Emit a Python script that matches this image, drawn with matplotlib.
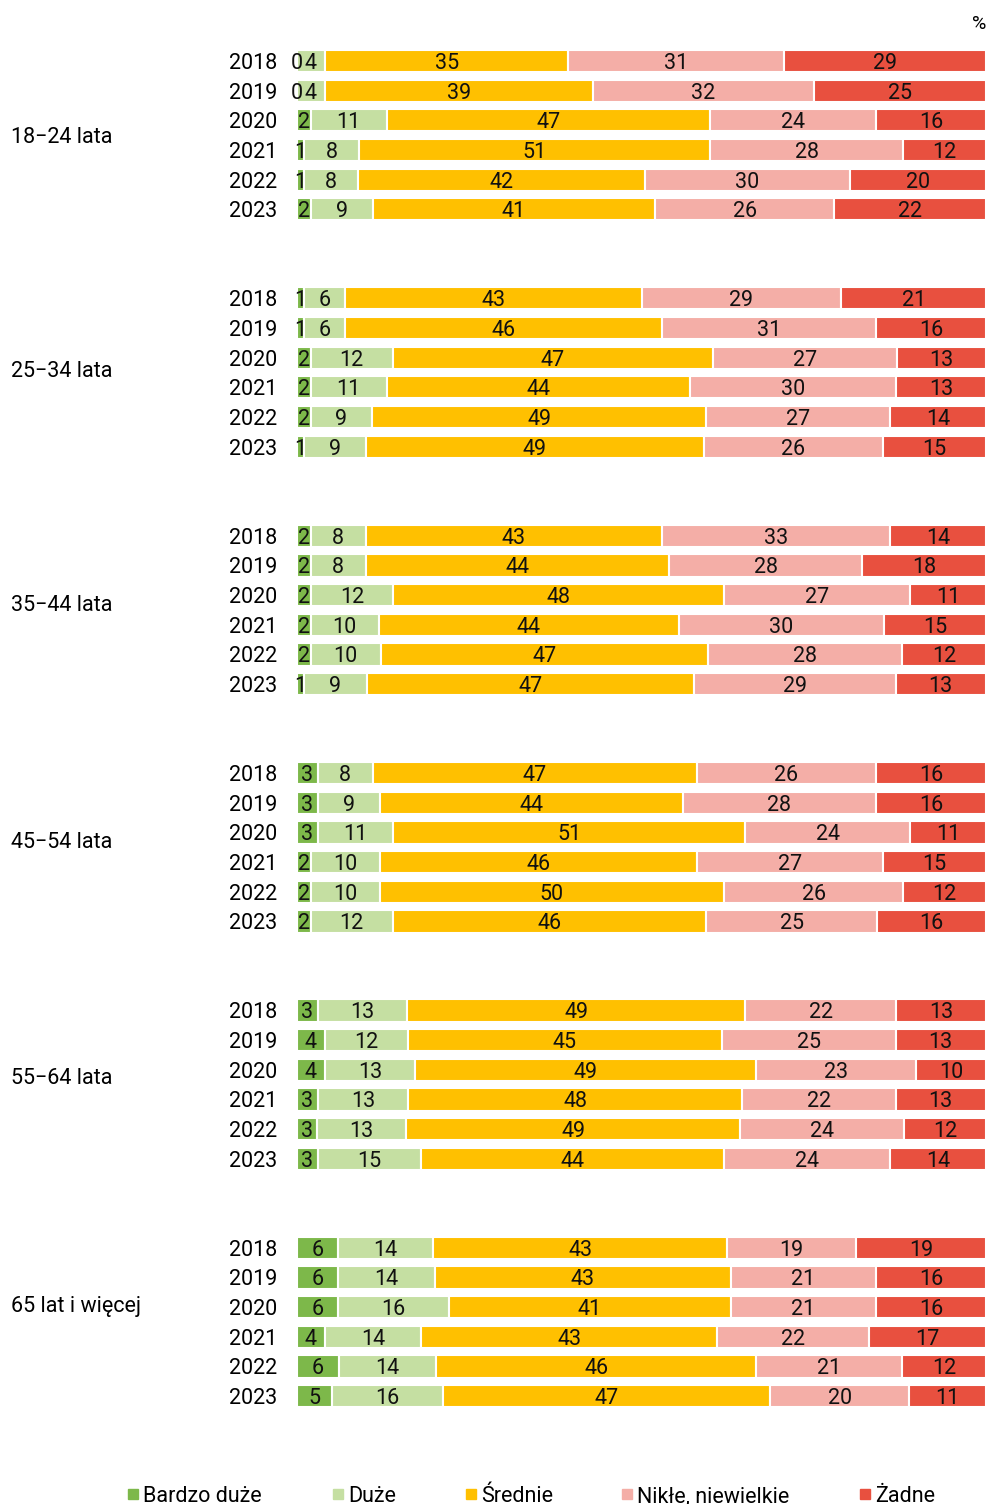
import numpy as np
import matplotlib.pyplot as plt
from matplotlib.patches import Rectangle
from matplotlib.transforms import blended_transform_factory

plt.rcParams['font.family'] = ['Roboto', 'DejaVu Sans']

groups = ['18\u221224 lata', '25\u221234 lata', '35\u221244 lata',
          '45\u221254 lata', '55\u221264 lata', '65 lat i więcej']
years = ['2018', '2019', '2020', '2021', '2022', '2023']
categories = ['Bardzo duże', 'Duże', 'Średnie', 'Nikłe, niewielkie', 'Żadne']
colors = ['#7db84a', '#c5dfa2', '#ffc000', '#f4aea7', '#e8503f']

# one row per year, columns follow categories
g18_24 = [[0, 4, 35, 31, 29], [0, 4, 39, 32, 25], [2, 11, 47, 24, 16],
          [1, 8, 51, 28, 12], [1, 8, 42, 30, 20], [2, 9, 41, 26, 22]]
g25_34 = [[1, 6, 43, 29, 21], [1, 6, 46, 31, 16], [2, 12, 47, 27, 13],
          [2, 11, 44, 30, 13], [2, 9, 49, 27, 14], [1, 9, 49, 26, 15]]
g35_44 = [[2, 8, 43, 33, 14], [2, 8, 44, 28, 18], [2, 12, 48, 27, 11],
          [2, 10, 44, 30, 15], [2, 10, 47, 28, 12], [1, 9, 47, 29, 13]]
g45_54 = [[3, 8, 47, 26, 16], [3, 9, 44, 28, 16], [3, 11, 51, 24, 11],
          [2, 10, 46, 27, 15], [2, 10, 50, 26, 12], [2, 12, 46, 25, 16]]
g55_64 = [[3, 13, 49, 22, 13], [4, 12, 45, 25, 13], [4, 13, 49, 23, 10],
          [3, 13, 48, 22, 13], [3, 13, 49, 24, 12], [3, 15, 44, 24, 14]]
g65 = [[6, 14, 43, 19, 19], [6, 14, 43, 21, 16], [6, 16, 41, 21, 16],
       [4, 14, 43, 22, 17], [6, 14, 46, 21, 12], [5, 16, 47, 20, 11]]

all_groups = [g18_24, g25_34, g35_44, g45_54, g55_64, g65]

FS = 15.5
W, H = 989, 1504
fig = plt.figure(figsize=(W / 100, H / 100), dpi=100)
row_px = 29.67
first_px = 61
top_px = first_px - row_px
bot_px = first_px + 46 * row_px
ax = fig.add_axes([297 / W, 1 - bot_px / H, 689 / W, (bot_px - top_px) / H])

ypos = []
ylabels = []
for g, data in enumerate(all_groups):
    for r, row in enumerate(data):
        y = g * 8 + r
        vals = np.array(row, dtype=float)
        widths = vals / vals.sum() * 100
        left = 0
        for k in range(len(categories)):
            ax.barh(y, widths[k], left=left, height=0.75, color=colors[k],
                    edgecolor='white', linewidth=1.5)
            ax.text(left + widths[k] / 2, y, str(row[k]), ha='center',
                    va='center_baseline', fontsize=FS, color='#111111')
            left += widths[k]
        ypos.append(y)
        ylabels.append(years[r])

ax.set_xlim(0, 100)
ax.set_ylim(46, -1)
ax.set_yticks(ypos)
ax.set_yticklabels(ylabels, fontsize=FS, va='center_baseline')
ax.tick_params(axis='y', length=0, pad=14)
ax.set_xticks([])
for s in ax.spines.values():
    s.set_visible(False)

# group names sit a little above the middle of their block
label_offset = [2.5, 2.37, 2.27, 2.25, 2.2, 1.9]
trans = blended_transform_factory(fig.transFigure, ax.transData)
for g, name in enumerate(groups):
    ax.text(11 / W, g * 8 + label_offset[g], name, transform=trans, ha='left',
            va='center_baseline', fontsize=FS)

fig.text(986 / W, 1 - 24 / H, '%', ha='right', va='center', fontsize=14)

# legend along the bottom
leg_x = [128, 333, 466, 622, 860]
leg_y = 1 - 1494 / H
for k, name in enumerate(categories):
    fig.patches.append(Rectangle((leg_x[k] / W, leg_y - 5 / H), 10 / W, 10 / H,
                                 transform=fig.transFigure, color=colors[k]))
    fig.text((leg_x[k] + 15) / W, leg_y, name, ha='left', va='center_baseline',
             fontsize=FS)

fig.savefig('out.png', dpi=100)
